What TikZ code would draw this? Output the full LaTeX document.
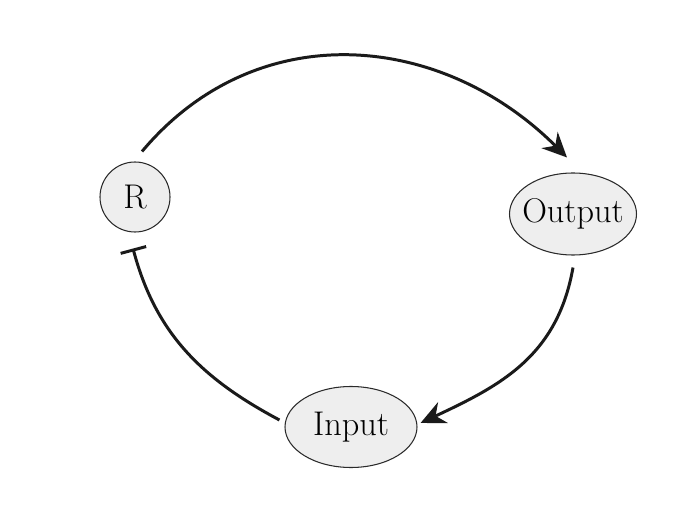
\documentclass[tikz,border=0pt]{standalone}
\usepackage{fontspec}
\usepackage{xcolor}
\definecolor{loopInk}{HTML}{1A1A1A}
\definecolor{loopEdge}{HTML}{2A2A2A}
\definecolor{loopFill}{HTML}{EEEEEE}
\usepackage{tikz}
\usetikzlibrary{positioning, arrows.meta, shapes.geometric}

\begin{document}
\begin{tikzpicture}[
  every node/.style={font=\fontsize{19.5}{23}\selectfont},
  blob/.style={ellipse, draw=loopEdge, line width=0.6pt, fill=loopFill,
               inner sep=0pt, inner xsep=-0.3cm, text centered},
  arrow/.style={-{Stealth[length=14pt, width=13pt]}, line width=1.7pt, color=loopInk},
  inhibit/.style={-{Bar[width=15pt]}, line width=1.7pt, color=loopInk},
]
\useasboundingbox (0,0) rectangle (13.8,10.1);

% Nodes of the loop
\node[blob, circle, minimum size=1.4cm] (R) at (2.70, 6.16) {R};
\node[blob, minimum width=2.54cm, minimum height=1.64cm] (out) at (11.46, 5.82) {Output};
\node[blob, minimum width=2.64cm, minimum height=1.62cm] (in) at (7.02, 1.56) {Input};

% Connectors
\draw[arrow] ([shift={(0.14,0.20)}]R.north)
  to[out=50, in=135, looseness=1.07] ([shift={(-0.12,0.30)}]out.north);
\draw[arrow] ([yshift=-0.24cm]out.south)
  to[out=-100, in=25, looseness=1.05] ([shift={(0.06,0.08)}]in.east);
\draw[inhibit] ([shift={(-0.10,0.14)}]in.west)
  to[out=152, in=-75] ([shift={(-0.04,-0.32)}]R.south);

\end{tikzpicture}
\end{document}
